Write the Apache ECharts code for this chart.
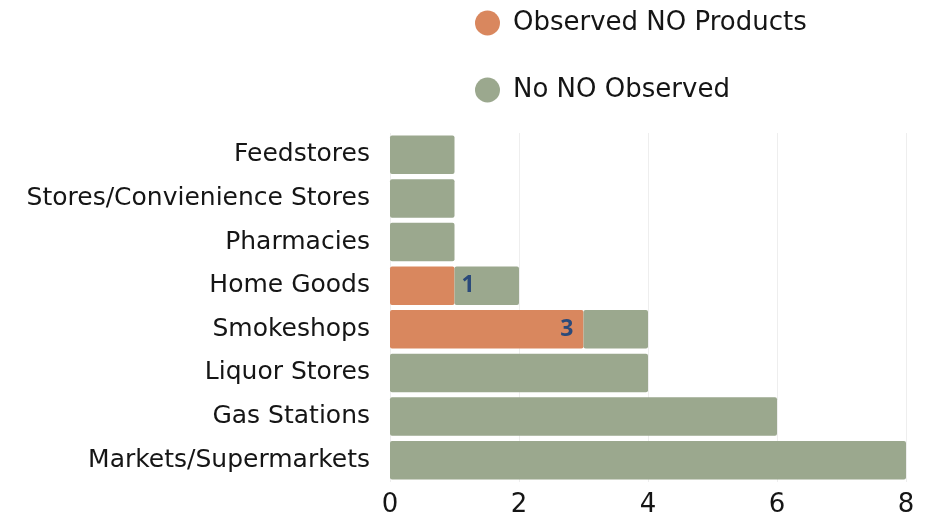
<!DOCTYPE html>
<html><head><meta charset="utf-8">
<script src="https://cdn.jsdelivr.net/npm/echarts@6/dist/echarts.min.js"></script>
<style>html,body{margin:0;padding:0;background:#fff}#c{width:928px;height:518px}</style>
</head><body><div id="c"></div>
<script>
const categories = ['Feedstores','Stores/Convienience Stores','Pharmacies','Home Goods','Smokeshops','Liquor Stores','Gas Stations','Markets/Supermarkets'];
const observed = [0,0,0,1,3,0,0,0];
const notObserved = [1,1,1,1,1,4,6,8];
const seriesNames = ['Observed NO Products','No NO Observed'];
const xTicks = [0,2,4,6,8];

const font = '"DejaVu Sans", sans-serif';
const chart = echarts.init(document.getElementById('c'));
const obsData = observed.map((v, i) => {
  if (!v) return { value: v, label: { show: false } };
  const small = v < 2;
  return { value: v, label: { show: true, position: small ? 'right' : 'insideRight', distance: small ? 7 : 10 } };
});
chart.setOption({
  animation: false,
  legend: {
    orient: 'vertical', left: 470, top: 5,
    itemWidth: 25, itemHeight: 25, itemGap: 41, icon: 'circle',
    textStyle: { fontFamily: font, fontSize: 26, color: '#151515', padding: [0, 0, 0, 8] },
    data: seriesNames
  },
  grid: { left: 390, right: 22, top: 133, bottom: 35, containLabel: false },
  xAxis: {
    type: 'value', min: 0, max: 8, interval: 2,
    axisLine: { show: false }, axisTick: { show: false },
    splitLine: { lineStyle: { color: '#eeeeee', width: 1 } },
    axisLabel: { fontFamily: font, fontSize: 26, color: '#151515', margin: 10,
      formatter: v => xTicks.includes(v) ? String(v) : '' }
  },
  yAxis: {
    type: 'category', inverse: true, data: categories,
    axisLine: { show: false }, axisTick: { show: false },
    axisLabel: { fontFamily: font, fontSize: 25, color: '#151515', margin: 20 }
  },
  series: [
    { name: seriesNames[0], type: 'bar', stack: 's', data: obsData, barCategoryGap: '12%',
      itemStyle: { color: '#D9875E', borderRadius: 2 },
      label: { fontFamily: '"Open Sans", sans-serif', fontWeight: 'bold', fontSize: 23, color: '#2B4A7A' } },
    { name: seriesNames[1], type: 'bar', stack: 's', data: notObserved, barCategoryGap: '12%',
      itemStyle: { color: '#9BA88E', borderRadius: 2 } }
  ]
});
</script></body></html>
